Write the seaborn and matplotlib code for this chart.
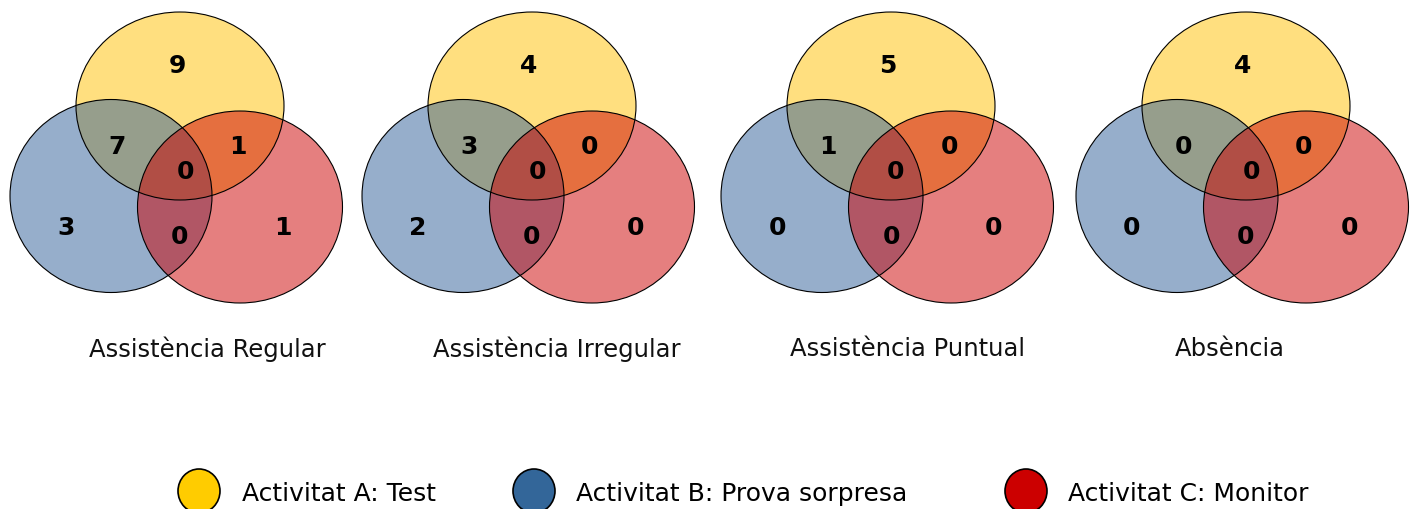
import matplotlib
matplotlib.use("Agg")
import matplotlib.pyplot as plt
from matplotlib.patches import Ellipse
import seaborn as sns

# data
panel_titles = ["Assistència Regular", "Assistència Irregular",
                "Assistència Puntual", "Absència"]
# region counts: A only, A&B, A&C, A&B&C, B only, B&C, C only
only_a = [9, 4, 5, 4]
a_and_b = [7, 3, 1, 0]
a_and_c = [1, 0, 0, 0]
a_b_c = [0, 0, 0, 0]
only_b = [3, 2, 0, 0]
b_and_c = [0, 0, 0, 0]
only_c = [1, 0, 0, 0]
legend_labels = ["Activitat A: Test", "Activitat B: Prova sorpresa",
                 "Activitat C: Monitor"]

sns.set_theme(style="white")
plt.rcParams["font.family"] = ["DejaVu Sans"]

fill_cols = ["#FFC000", "#2E5F99", "#CC0000"]
legend_cols = ["#FFCC00", "#336699", "#CC0000"]

fig = plt.figure(figsize=(14.11, 5.09), dpi=100)
ax = fig.add_axes([0, 0, 1, 1])
ax.set_xlim(0, 1411)
ax.set_ylim(509, 0)
ax.axis("off")

# layout (pixels)
offsets = [0, 352, 711, 1066]
title_x = [207, 557, 907, 1230]
circles = [((180, 106), 208, 188), ((111, 196), 202, 193), ((240, 207), 205, 192)]
label_pos = [(177, 66), (117, 147), (238, 147), (185, 172),
             (66, 228), (180, 237), (283, 228)]

for i, off in enumerate(offsets):
    for (c, w, h), col in zip(circles, fill_cols):
        ax.add_patch(Ellipse((c[0] + off, c[1]), w, h, facecolor=col,
                             alpha=0.5, edgecolor="none"))
    for (c, w, h) in circles:
        ax.add_patch(Ellipse((c[0] + off, c[1]), w, h, facecolor="none",
                             edgecolor="black", linewidth=0.8))
    vals = [only_a[i], a_and_b[i], a_and_c[i], a_b_c[i],
            only_b[i], b_and_c[i], only_c[i]]
    for (x, y), v in zip(label_pos, vals):
        ax.text(x + off, y, str(v), ha="center", va="center",
                fontsize=18, fontweight="bold", color="black")
    ax.text(title_x[i], 349, panel_titles[i], ha="center", va="center",
            fontsize=17.5, color="#111111")

# legend
leg_x = [199, 534, 1026]
text_x = [242, 576, 1068]
for lx, tx, col, lab in zip(leg_x, text_x, legend_cols, legend_labels):
    ax.add_patch(Ellipse((lx, 491), 42, 44, facecolor=col,
                         edgecolor="black", linewidth=1.2))
    ax.text(tx, 494, lab, ha="left", va="center", fontsize=18,
            color="black")

fig.savefig("out.png", dpi=100)
